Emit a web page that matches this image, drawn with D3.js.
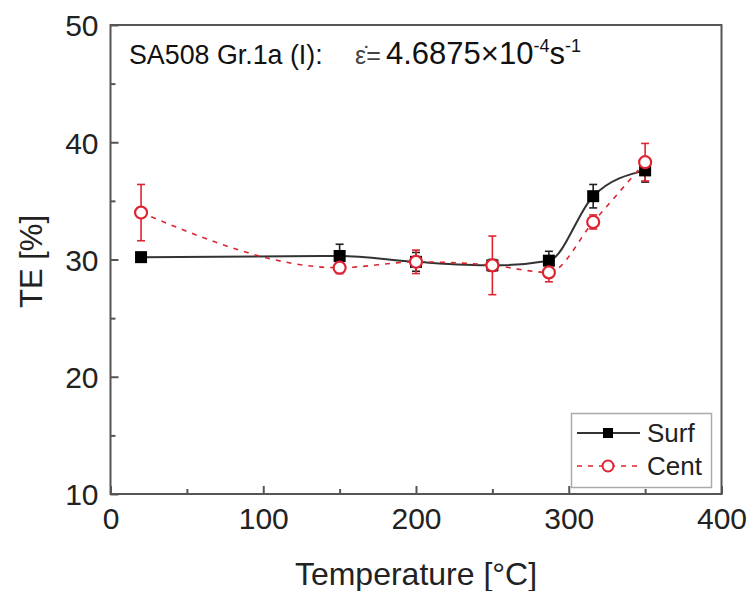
<!DOCTYPE html>
<html>
<head>
<meta charset="utf-8">
<script src="https://cdn.jsdelivr.net/npm/d3@7"></script>
<style>
  html, body { margin: 0; padding: 0; background: #fff; }
  svg { display: block; font-family: "Liberation Sans", Arial, sans-serif; }
</style>
</head>
<body>
<svg id="chart" width="754" height="591"></svg>
<script>
// Test temperatures (°C)
const temps = [20, 150, 200, 250, 287, 316, 350];
// Total elongation (%) for surface and centre specimens
const surfTE = [30.2, 30.3, 29.8, 29.5, 29.9, 35.4, 37.6];
const surfErr = [0.3, 1.0, 0.8, 0.5, 0.8, 1.0, 1.0];
const centTE = [34.0, 29.3, 29.8, 29.5, 28.9, 33.2, 38.3];
const centErr = [2.4, 0.5, 1.0, 2.5, 0.8, 0.6, 1.6];
const seriesNames = ["Surf", "Cent"];
const xTicks = [0, 100, 200, 300, 400];
const yTicks = [10, 20, 30, 40, 50];

const svg = d3.select("#chart");
const plotL = 110.5, plotR = 721.5, plotT = 25, plotB = 494;
const x = d3.scaleLinear().domain([0, 400]).range([plotL, plotR]);
const y = d3.scaleLinear().domain([10, 50]).range([plotB, plotT]);
const axisColor = "#555";
const red = "#de2431";

// inward major and minor ticks on the bottom and left axes
const xAxis = d3.axisBottom(x).tickValues(xTicks).tickSizeInner(-8).tickSizeOuter(0).tickPadding(14);
const xMinor = d3.axisBottom(x).tickValues([50, 150, 250, 350]).tickSizeInner(-5).tickSizeOuter(0).tickFormat("");
const yAxis = d3.axisLeft(y).tickValues(yTicks).tickSizeInner(-8).tickSizeOuter(0).tickPadding(12);
const yMinor = d3.axisLeft(y).tickValues([15, 25, 35, 45]).tickSizeInner(-5).tickSizeOuter(0).tickFormat("");

function styleAxis(g) {
  g.select(".domain").remove();
  g.selectAll("line").attr("stroke", axisColor).attr("stroke-width", 2);
  g.selectAll("text").attr("fill", "#222").style("font-size", "30px")
    .style("font-family", "Liberation Sans, Arial, sans-serif");
}
svg.append("g").attr("transform", `translate(0,${plotB})`).call(xAxis).call(styleAxis)
  .selectAll("text").attr("dy", "0.71em");
svg.append("g").attr("transform", `translate(0,${plotB})`).call(xMinor).call(styleAxis);
svg.append("g").attr("transform", `translate(${plotL},0)`).call(yAxis).call(styleAxis)
  .selectAll("text").attr("dy", "0.36em");
svg.append("g").attr("transform", `translate(${plotL},0)`).call(yMinor).call(styleAxis);

// plot frame
svg.append("rect").attr("x", plotL).attr("y", plotT)
  .attr("width", plotR - plotL).attr("height", plotB - plotT)
  .attr("fill", "none").attr("stroke", axisColor).attr("stroke-width", 2);

// axis titles
svg.append("text").attr("x", (plotL + plotR) / 2).attr("y", 585)
  .attr("text-anchor", "middle").attr("fill", "#222").style("font-size", "32px")
  .text("Temperature [°C]");
svg.append("text").attr("transform", `translate(42,${(plotT + plotB) / 2 + 2}) rotate(-90)`)
  .attr("text-anchor", "middle").attr("fill", "#222").style("font-size", "31px")
  .text("TE [%]");

// condition annotation: material and strain rate
const ann = svg.append("text").attr("x", 129).attr("y", 64).attr("fill", "#111").style("font-size", "26.8px");
ann.append("tspan").text("SA508 Gr.1a (I):");
ann.append("tspan").attr("x", 355).style("font-size", "25px").attr("fill", "#444").text("ε\u0307=");
ann.append("tspan").attr("x", 386).style("font-size", "31px").text("4.6875×10");
ann.append("tspan").attr("dy", -12).style("font-size", "18px").text("-4");
ann.append("tspan").attr("dy", 12).style("font-size", "31px").text("s");
ann.append("tspan").attr("dy", -12).style("font-size", "18px").text("-1");

const surf = temps.map((t, i) => ({ t, v: surfTE[i], e: surfErr[i] }));
const cent = temps.map((t, i) => ({ t, v: centTE[i], e: centErr[i] }));

const line = d3.line().x(d => x(d.t)).y(d => y(d.v)).curve(d3.curveMonotoneX);

// connecting curves
svg.append("path").datum(surf).attr("d", line).attr("fill", "none")
  .attr("stroke", "#333").attr("stroke-width", 2);
svg.append("path").datum(cent).attr("d", line).attr("fill", "none")
  .attr("stroke", red).attr("stroke-width", 1.6).attr("stroke-dasharray", "5,6");

function errorBars(data, color) {
  const g = svg.append("g").attr("stroke", color).attr("stroke-width", 1.6);
  data.forEach(d => {
    g.append("line").attr("x1", x(d.t)).attr("x2", x(d.t)).attr("y1", y(d.v - d.e)).attr("y2", y(d.v + d.e));
    [d.v - d.e, d.v + d.e].forEach(v => {
      g.append("line").attr("x1", x(d.t) - 4).attr("x2", x(d.t) + 4).attr("y1", y(v)).attr("y2", y(v));
    });
  });
}
errorBars(surf, "#222");
errorBars(cent, red);

// markers
svg.append("g").selectAll("rect").data(surf).join("rect")
  .attr("x", d => x(d.t) - 6).attr("y", d => y(d.v) - 6)
  .attr("width", 12).attr("height", 12).attr("fill", "#000");
svg.append("g").selectAll("circle").data(cent).join("circle")
  .attr("cx", d => x(d.t)).attr("cy", d => y(d.v)).attr("r", 6)
  .attr("fill", "#fff").attr("stroke", red).attr("stroke-width", 2.2);

// legend
const lg = svg.append("g");
lg.append("rect").attr("x", 571.5).attr("y", 413.5).attr("width", 140).attr("height", 74)
  .attr("fill", "#fff").attr("stroke", "#aaa").attr("stroke-width", 1.5);
const rows = [{ name: seriesNames[0], y: 433 }, { name: seriesNames[1], y: 466 }];
lg.append("line").attr("x1", 577).attr("x2", 640).attr("y1", rows[0].y).attr("y2", rows[0].y)
  .attr("stroke", "#333").attr("stroke-width", 2);
lg.append("rect").attr("x", 603).attr("y", rows[0].y - 5).attr("width", 10).attr("height", 10).attr("fill", "#000");
lg.append("line").attr("x1", 577).attr("x2", 640).attr("y1", rows[1].y).attr("y2", rows[1].y)
  .attr("stroke", red).attr("stroke-width", 1.6).attr("stroke-dasharray", "5,6");
lg.append("circle").attr("cx", 608).attr("cy", rows[1].y).attr("r", 5.5)
  .attr("fill", "#fff").attr("stroke", red).attr("stroke-width", 2);
rows.forEach(r => {
  lg.append("text").attr("x", 647).attr("y", r.y + 9).attr("fill", "#222")
    .style("font-size", "26px").text(r.name);
});
</script>
</body>
</html>
